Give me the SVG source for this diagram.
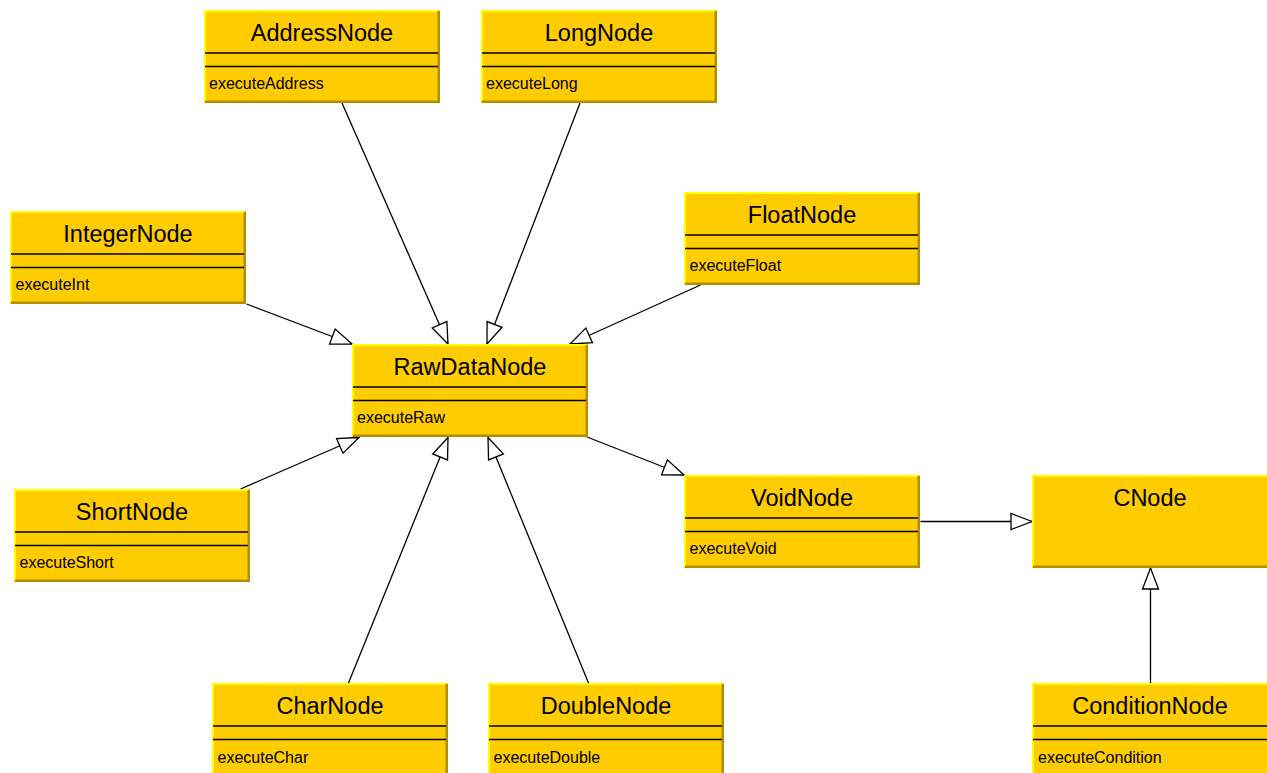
<svg xmlns="http://www.w3.org/2000/svg" width="1267" height="773" viewBox="0 0 1267 773">
  <style>
    .body { fill: #FFCC00; }
    .lit { fill: none; stroke: #FFFF00; stroke-width: 2; }
    .shade { fill: none; stroke: #B38F00; stroke-width: 2.5; }
    .sep { fill: none; stroke: #000000; stroke-width: 1.4; }
    .title { font-family: "Liberation Sans", Arial, sans-serif; font-size: 23.5px; fill: #000000; text-anchor: middle; }
    .member { font-family: "Liberation Sans", Arial, sans-serif; font-size: 16px; fill: #000000; }
    .edge { fill: none; stroke: #000000; stroke-width: 1.3; marker-end: url(#gen); }
  </style>
  <defs>
    <!-- hollow triangle used for generalization arrows -->
    <marker id="gen" markerUnits="userSpaceOnUse" orient="auto" refX="0" refY="0" markerWidth="30" markerHeight="30" overflow="visible">
      <path d="M0,0 L-21,-8 L-21,8 Z" fill="#FFFFFF" stroke="#000000" stroke-width="1.3" stroke-linejoin="miter"/>
    </marker>
    <!-- class box frame: body, bevel edges and compartment separators -->
    <g id="frame">
      <rect class="body" width="236" height="93"/>
      <path class="lit" d="M1,92 V1 H235"/>
      <path class="shade" d="M1,91.75 H234.75 V1"/>
    </g>
    <g id="frameSep">
      <use href="#frame"/>
      <path class="sep" d="M1,43 H234 M1,56.5 H234"/>
    </g>
    <!-- frames for boxes running past the right edge -->
    <g id="frameWide">
      <rect class="body" width="240" height="93"/>
      <path class="lit" d="M1,92 V1 H240"/>
      <path class="shade" d="M1,91.75 H240"/>
    </g>
    <g id="frameWideSep">
      <use href="#frameWide"/>
      <path class="sep" d="M1,43 H240 M1,56.5 H240"/>
    </g>
  </defs>

  <rect width="1267" height="773" fill="#FFFFFF"/>

  <g id="connectors">
    <line class="edge" x1="342" y1="103" x2="448" y2="344"/>
    <line class="edge" x1="580" y1="103" x2="487" y2="344"/>
    <line class="edge" x1="700.5" y1="285" x2="570" y2="344"/>
    <line class="edge" x1="246.5" y1="304" x2="352" y2="344"/>
    <line class="edge" x1="240.5" y1="489" x2="359" y2="437.5"/>
    <line class="edge" x1="348.5" y1="683" x2="448" y2="437.5"/>
    <line class="edge" x1="588.5" y1="683" x2="488" y2="437.5"/>
    <line class="edge" x1="587" y1="437" x2="684" y2="475"/>
    <line class="edge" x1="920.5" y1="521.5" x2="1032" y2="521.5"/>
    <line class="edge" x1="1150.5" y1="683" x2="1150.5" y2="568"/>
  </g>

  <g id="AddressNode" transform="translate(204,10)">
    <use href="#frameSep"/>
    <text class="title" x="118" y="31">AddressNode</text>
    <text class="member" x="5" y="79">executeAddress</text>
  </g>

  <g id="LongNode" transform="translate(481,10)">
    <use href="#frameSep"/>
    <text class="title" x="118" y="31">LongNode</text>
    <text class="member" x="5" y="79">executeLong</text>
  </g>

  <g id="IntegerNode" transform="translate(10,211)">
    <use href="#frameSep"/>
    <text class="title" x="118" y="31">IntegerNode</text>
    <text class="member" x="5.5" y="79">executeInt</text>
  </g>

  <g id="FloatNode" transform="translate(684,192)">
    <use href="#frameSep"/>
    <text class="title" x="118" y="31">FloatNode</text>
    <text class="member" x="5.5" y="79">executeFloat</text>
  </g>

  <g id="RawDataNode" transform="translate(352,344)">
    <use href="#frameSep"/>
    <text class="title" x="118" y="31">RawDataNode</text>
    <text class="member" x="5" y="79">executeRaw</text>
  </g>

  <g id="ShortNode" transform="translate(14,489)">
    <use href="#frameSep"/>
    <text class="title" x="118" y="31">ShortNode</text>
    <text class="member" x="5.5" y="79">executeShort</text>
  </g>

  <g id="VoidNode" transform="translate(684,475)">
    <use href="#frameSep"/>
    <text class="title" x="118" y="31">VoidNode</text>
    <text class="member" x="5.5" y="79">executeVoid</text>
  </g>

  <g id="CNode" transform="translate(1032,475)">
    <use href="#frameWide"/>
    <text class="title" x="118" y="31">CNode</text>
  </g>

  <g id="CharNode" transform="translate(212,683)">
    <use href="#frameSep"/>
    <text class="title" x="118" y="31">CharNode</text>
    <text class="member" x="5.5" y="80">executeChar</text>
  </g>

  <g id="DoubleNode" transform="translate(488,683)">
    <use href="#frameSep"/>
    <text class="title" x="118" y="31">DoubleNode</text>
    <text class="member" x="5.5" y="80">executeDouble</text>
  </g>

  <g id="ConditionNode" transform="translate(1032,683)">
    <use href="#frameWideSep"/>
    <text class="title" x="118" y="31">ConditionNode</text>
    <text class="member" x="6" y="80">executeCondition</text>
  </g>
</svg>
